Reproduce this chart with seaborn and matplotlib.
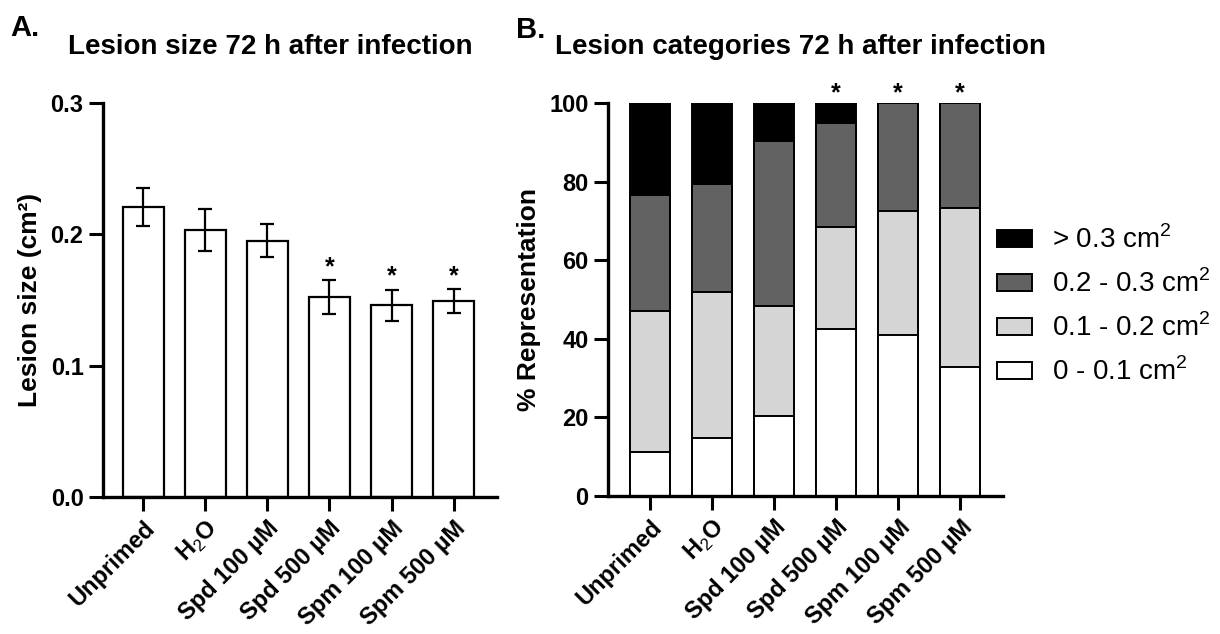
import numpy as np
import pandas as pd
import seaborn as sns
import matplotlib.pyplot as plt

# data
groups = ['Unprimed', r'H$_2$O', 'Spd 100 µM', 'Spd 500 µM', 'Spm 100 µM', 'Spm 500 µM']
lesion_mean = [0.221, 0.203, 0.195, 0.152, 0.146, 0.149]
lesion_sem = [0.0145, 0.016, 0.0125, 0.013, 0.0117, 0.0092]
signif_a = ['', '', '', '*', '*', '*']

# % of lesions per size class (stacked, bottom to top)
cat_small = [11.1, 14.7, 20.4, 42.4, 41.0, 32.9]   # 0 - 0.1
cat_mid = [36.1, 37.3, 27.9, 26.1, 31.6, 40.5]     # 0.1 - 0.2
cat_large = [29.4, 27.3, 42.0, 26.3, 27.4, 26.6]   # 0.2 - 0.3
cat_xlarge = [23.4, 20.7, 9.7, 5.2, 0.0, 0.0]      # > 0.3
signif_b = ['', '', '', '*', '*', '*']
cat_labels = ['> 0.3 cm$^2$', '0.2 - 0.3 cm$^2$', '0.1 - 0.2 cm$^2$', '0 - 0.1 cm$^2$']
cat_colors = ['#000000', '#626262', '#d5d5d5', '#ffffff']

sns.set_style('ticks')
plt.rcParams['font.family'] = ['Liberation Sans', 'DejaVu Sans']
plt.rcParams['mathtext.fontset'] = 'custom'
plt.rcParams['mathtext.rm'] = 'Liberation Sans'
plt.rcParams['mathtext.bf'] = 'Liberation Sans:bold'
for k in ['text.color', 'axes.labelcolor', 'xtick.color', 'ytick.color', 'axes.edgecolor']:
    plt.rcParams[k] = 'black'
plt.rcParams['axes.linewidth'] = 2.4
plt.rcParams['xtick.major.width'] = 2.2
plt.rcParams['ytick.major.width'] = 2.2
plt.rcParams['xtick.major.size'] = 10
plt.rcParams['ytick.major.size'] = 10

fig = plt.figure(figsize=(12.2, 6.34), dpi=100)
axA = fig.add_axes([103 / 1220, 1 - 497 / 634, 394 / 1220, 394 / 634])
axB = fig.add_axes([608 / 1220, 1 - 496 / 634, 395 / 1220, 393 / 634])

# ---- panel A
dfA = pd.DataFrame({'group': groups, 'mean': lesion_mean, 'sem': lesion_sem})
sns.barplot(data=dfA, x='group', y='mean', color='white', edgecolor='black',
            linewidth=1.6, width=0.66, errorbar=None, ax=axA)
xs = np.arange(len(groups))
axA.errorbar(xs, dfA['mean'], yerr=dfA['sem'], fmt='none', ecolor='black',
             elinewidth=1.6, capsize=5, capthick=1.6)
for x, m, s, star in zip(xs, lesion_mean, lesion_sem, signif_a):
    if star:
        axA.annotate(star, (x, m + s), xytext=(0, 1), textcoords='offset points',
                     ha='center', va='bottom', fontsize=18, fontweight='bold')
axA.set_ylim(0, 0.3)
axA.set_yticks([0.0, 0.1, 0.2, 0.3])
axA.set_yticklabels(['0.0', '0.1', '0.2', '0.3'])
axA.set_xlim(-0.65, 5.7)
axA.set_ylabel('Lesion size (cm²)', fontsize=19, fontweight='bold', labelpad=6)

# ---- panel B (layered cumulative bars)
segs = [cat_small, cat_mid, cat_large, cat_xlarge]
cum = np.cumsum(np.array(segs), axis=0)
dfB = pd.DataFrame({'group': groups})
for i in range(3, -1, -1):
    dfB['top'] = cum[i]
    sns.barplot(data=dfB, x='group', y='top', color=cat_colors[3 - i],
                edgecolor='black', linewidth=1.4, width=0.65, errorbar=None,
                ax=axB, label=cat_labels[3 - i])
for x, star in zip(xs, signif_b):
    if star:
        axB.annotate(star, (x, 100), xytext=(0, -2), textcoords='offset points',
                     ha='center', va='bottom', fontsize=18, fontweight='bold')
axB.set_ylim(0, 100)
axB.set_yticks([0, 20, 40, 60, 80, 100])
axB.set_xlim(-0.68, 5.69)
axB.set_ylabel('% Representation', fontsize=19, fontweight='bold', labelpad=6)
leg = axB.legend(loc='center left', bbox_to_anchor=(986 / 1220, 1 - 306 / 634),
                 bbox_transform=fig.transFigure, frameon=False, borderaxespad=0,
                 fontsize=20, handlelength=1.26, handleheight=0.58,
                 labelspacing=0.56, handletextpad=0.72)

for ax in (axA, axB):
    sns.despine(ax=ax)
    ax.set_xlabel('')
    ax.tick_params(axis='both', labelsize=17, pad=4)
    for lab in ax.get_yticklabels():
        lab.set_fontweight('bold')
    ax.set_xticks(xs)
    ax.set_xticklabels(groups, rotation=45, ha='right', rotation_mode='anchor',
                       fontweight='bold', fontsize=17)

fig.text(68 / 1220, 1 - 47 / 634, 'Lesion size 72 h after infection', fontsize=20,
         fontweight='bold', ha='left', va='center')
fig.text(555 / 1220, 1 - 47 / 634, 'Lesion categories 72 h after infection', fontsize=20,
         fontweight='bold', ha='left', va='center')
fig.text(10 / 1220, 1 - 28 / 634, 'A.', fontsize=21, fontweight='bold', ha='left', va='center')
fig.text(516 / 1220, 1 - 30 / 634, 'B.', fontsize=21, fontweight='bold', ha='left', va='center')

fig.savefig('out.png', dpi=100)
